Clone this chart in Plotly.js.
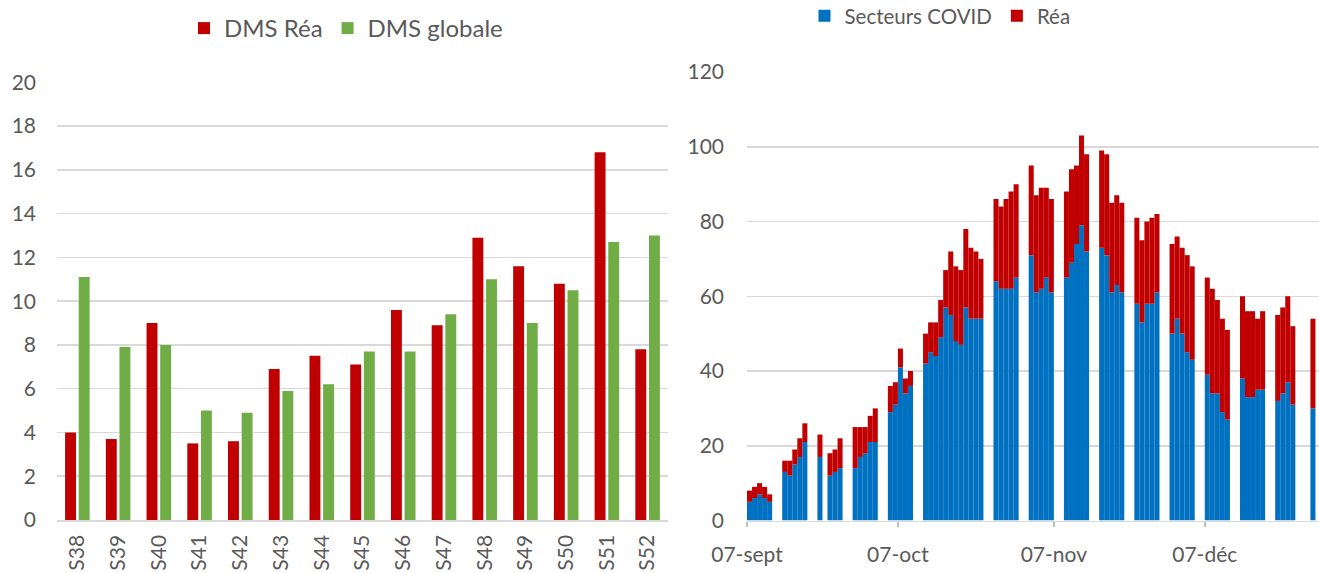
<!DOCTYPE html>
<html><head><meta charset="utf-8">
<script src="https://cdn.plot.ly/plotly-3.0.1.min.js"></script>
<style>html,body{margin:0;padding:0;background:#fff}#chart{width:1319px;height:573px}</style>
</head><body><div id="chart"></div>
<script>
// Left chart: weekly DMS
const weeks = ['S38','S39','S40','S41','S42','S43','S44','S45','S46','S47','S48','S49','S50','S51','S52'];
const dmsRea = [4.0,3.7,9.0,3.5,3.6,6.9,7.5,7.1,9.6,8.9,12.9,11.6,10.8,16.8,7.8];
const dmsGlobale = [11.1,7.9,8.0,5.0,4.9,5.9,6.2,7.7,7.7,9.4,11.0,9.0,10.5,12.7,13.0];

// Right chart: daily occupancy
const days = [
 '2020-09-07','2020-09-08','2020-09-09','2020-09-10','2020-09-11',
 '2020-09-14','2020-09-15','2020-09-16','2020-09-17','2020-09-18',
 '2020-09-21','2020-09-23','2020-09-24','2020-09-25',
 '2020-09-28','2020-09-29','2020-09-30','2020-10-01','2020-10-02',
 '2020-10-05','2020-10-06','2020-10-07','2020-10-08','2020-10-09',
 '2020-10-12','2020-10-13','2020-10-14','2020-10-15','2020-10-16','2020-10-17',
 '2020-10-18','2020-10-19','2020-10-20','2020-10-21','2020-10-22','2020-10-23',
 '2020-10-26','2020-10-27','2020-10-28','2020-10-29','2020-10-30',
 '2020-11-02','2020-11-03','2020-11-04','2020-11-05','2020-11-06',
 '2020-11-09','2020-11-10','2020-11-11','2020-11-12','2020-11-13',
 '2020-11-16','2020-11-17','2020-11-18','2020-11-19','2020-11-20',
 '2020-11-23','2020-11-24','2020-11-25','2020-11-26','2020-11-27',
 '2020-11-30','2020-12-01','2020-12-02','2020-12-03','2020-12-04',
 '2020-12-07','2020-12-08','2020-12-09','2020-12-10','2020-12-11',
 '2020-12-14','2020-12-15','2020-12-16','2020-12-17','2020-12-18',
 '2020-12-21','2020-12-22','2020-12-23','2020-12-24',
 '2020-12-28'
];
const secteursCovid = [
 5,6,7,6,5,
 13,12,15,17,21,
 17,12,13,14,
 14,17,18,21,21,
 29,31,41,34,36,
 42,45,44,49,57,55,
 48,47,57,54,54,54,
 64,62,62,62,65,
 71,61,62,65,61,
 65,69,74,79,72,
 73,71,61,63,61,
 58,53,58,58,61,
 50,54,50,45,43,
 39,34,34,29,27,
 38,33,33,35,35,
 32,34,37,31,
 30
];
const rea = [
 3,3,3,3,2,
 3,4,4,5,5,
 6,6,6,8,
 11,8,7,7,9,
 7,6,5,4,4,
 8,8,9,10,10,17,
 20,20,21,19,18,16,
 22,22,24,26,25,
 24,26,27,24,25,
 23,25,21,24,26,
 26,27,24,24,24,
 23,22,22,23,21,
 24,22,23,26,25,
 26,28,25,25,24,
 22,23,23,19,21,
 23,23,23,21,
 24
];
const dateTickVals = ['2020-09-07','2020-10-07','2020-11-07','2020-12-07'];
const dateTickText = ['07-sept','07-oct','07-nov','07-déc'];

const DAY = 86400000;
const W = 1319, H = 573;
const fx = p => p / W;
const fy = p => (H - p) / H;

const FONT = 'Lato, "Open Sans", sans-serif';
const TXT = '#595959';
const GRID = '#D9D9D9';

const traces = [
  {type:'bar', name:'DMS Réa', x:weeks, y:dmsRea, xaxis:'x', yaxis:'y',
   marker:{color:'#C00000'}, legend:'legend'},
  {type:'bar', name:'DMS globale', x:weeks, y:dmsGlobale, xaxis:'x', yaxis:'y',
   marker:{color:'#70AD47'}, legend:'legend'},
  {type:'bar', name:'Secteurs COVID', x:days, y:secteursCovid, xaxis:'x2', yaxis:'y2',
   width:DAY, offset:0, marker:{color:'#0070C0'}, legend:'legend2'},
  {type:'bar', name:'Réa', x:days, y:rea, base:secteursCovid, xaxis:'x2', yaxis:'y2',
   width:DAY, offset:0, marker:{color:'#C00000'}, legend:'legend2'}
];

const layout = {
  width:W, height:H, autosize:false,
  margin:{l:0,r:0,t:0,b:0, autoexpand:false},
  paper_bgcolor:'#fff', plot_bgcolor:'#fff',
  font:{family:FONT, color:TXT, size:21},
  barmode:'group', bargap:0.33, bargroupgap:0.2,
  showlegend:true,
  legend:{orientation:'h', x:fx(346), y:fy(28.5), xanchor:'center', yanchor:'middle',
          font:{size:24, color:TXT, family:FONT}, bgcolor:'rgba(0,0,0,0)'},
  legend2:{orientation:'h', x:fx(940), y:fy(16), xanchor:'center', yanchor:'middle',
          font:{size:20.5, color:TXT, family:FONT}, bgcolor:'rgba(0,0,0,0)'},
  xaxis:{domain:[fx(57), fx(668)], anchor:'y', type:'category', automargin:false,
         tickangle:-90, showgrid:false, showline:true, linecolor:GRID, linewidth:1.5,
         ticks:'', ticklabelstandoff:5, tickfont:{size:21}, fixedrange:true},
  yaxis:{domain:[fy(520), fy(82.3)], anchor:'x', range:[0,20], dtick:2, tick0:0, automargin:false,
         showgrid:true, gridcolor:GRID, gridwidth:1.5, zeroline:false, showline:false,
         ticks:'', ticklabelstandoff:20, tickfont:{size:21}},
  xaxis2:{domain:[fx(747), 1], anchor:'y2', type:'date', automargin:false,
          range:['2020-09-07', '2020-12-29 17:00'],
          tickmode:'array', tickvals:dateTickVals, ticktext:dateTickText,
          showgrid:false, showline:true, linecolor:GRID, linewidth:1.5,
          ticks:'outside', ticklen:5, tickcolor:'#BFBFBF', tickwidth:1.5,
          ticklabelstandoff:10, tickfont:{size:21}},
  yaxis2:{domain:[fy(520.5), fy(72)], anchor:'x2', range:[0,120], dtick:20, tick0:0, automargin:false,
          showgrid:true, gridcolor:GRID, gridwidth:1.5, zeroline:false, showline:false,
          ticks:'', ticklabelstandoff:22, tickfont:{size:21}}
};

Plotly.newPlot('chart', traces, layout, {displayModeBar:false, staticPlot:true});
</script>
</body></html>
